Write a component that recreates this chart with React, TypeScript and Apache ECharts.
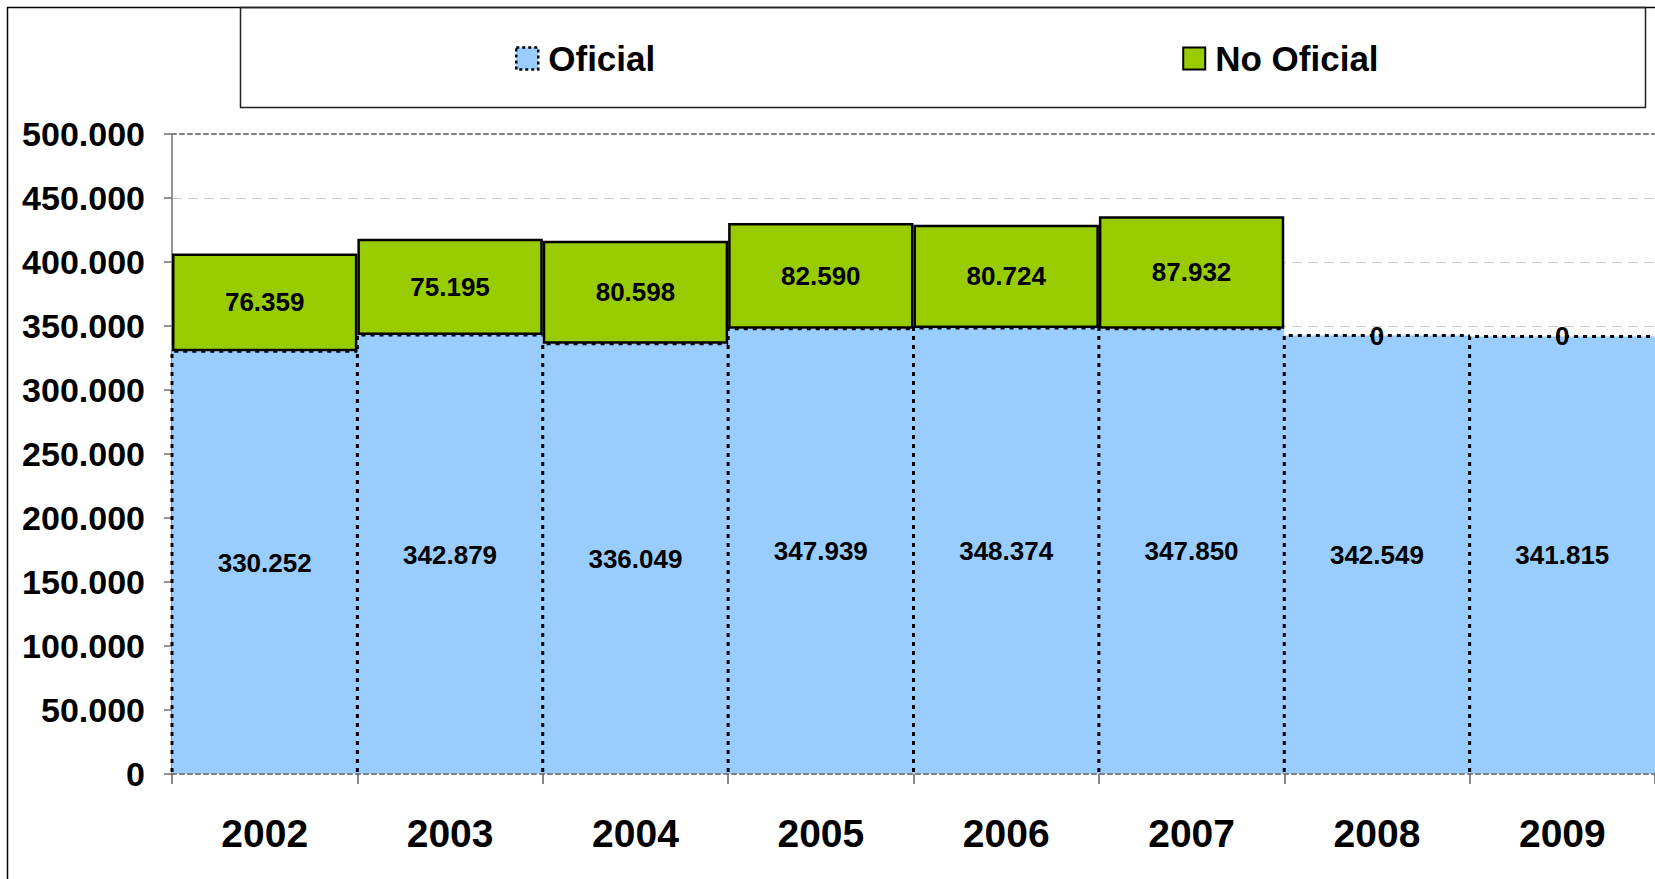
import React, { useEffect, useRef } from "react";
import * as echarts from "echarts";

const years = ["2002", "2003", "2004", "2005", "2006", "2007", "2008", "2009"];
const oficial = [330252, 342879, 336049, 347939, 348374, 347850, 342549, 341815];
const noOficial = [76359, 75195, 80598, 82590, 80724, 87932, 0, 0];
const yTicks = { min: 0, max: 500000, interval: 50000 };

const FONT = "'Liberation Sans', Arial, sans-serif";
const fmt = (v: number) => String(Math.round(v)).replace(/\B(?=(\d{3})+(?!\d))/g, ".");

const oficialStyle = { color: "#99CCFF", borderColor: "#000", borderWidth: 0 };
const noOficialStyle = { color: "#99CC00", borderColor: "#000", borderWidth: 2.5 };

export default function App() {
  const ref = useRef<HTMLDivElement>(null);
  useEffect(() => {
    if (!ref.current) return;
    const chart = echarts.init(ref.current, null, { renderer: "svg" });
    const labelStyle = {
      show: true,
      position: "inside",
      formatter: (p: any) => fmt(p.value),
      fontSize: 26,
      fontWeight: "bold",
      color: "#000",
      fontFamily: FONT,
    };
    chart.setOption({
      animation: false,
      backgroundColor: "#fff",
      textStyle: { fontFamily: FONT },
      graphic: [
        {
          type: "rect",
          shape: { x: 7.5, y: 7.5, width: 1700, height: 900 },
          style: { fill: "none", stroke: "#000", lineWidth: 1.5 },
          silent: true,
          z: -10,
        },
        {
          type: "rect",
          shape: { x: 240.5, y: 7.5, width: 1405, height: 100 },
          style: { fill: "none", stroke: "#222", lineWidth: 1.5 },
          silent: true,
          z: -10,
        },
      ],
      legend: {
        data: [
          {
            name: "Oficial",
            itemStyle: { color: "#99CCFF", borderColor: "#000", borderWidth: 2.5, borderType: [3, 3] },
          },
          { name: "No Oficial", itemStyle: { ...noOficialStyle, borderWidth: 2 } },
        ],
        left: 510,
        top: 36,
        icon: "rect",
        itemWidth: 22,
        itemHeight: 22,
        itemGap: 527,
        textStyle: {
          fontSize: 35,
          fontWeight: "bold",
          color: "#000",
          fontFamily: FONT,
          padding: [0, 0, 0, 5],
        },
      },
      grid: { left: 172, top: 134, width: 1486, height: 640 },
      xAxis: [
        {
          type: "category",
          data: years,
          boundaryGap: true,
          z: 5,
          axisLine: { show: true, lineStyle: { color: "#808080", type: [4, 4], width: 2 } },
          axisTick: { show: true, alignWithLabel: false, length: 10, lineStyle: { color: "#606060", width: 1.5 } },
          axisLabel: {
            margin: 40,
            fontSize: 39,
            fontWeight: "bold",
            color: "#000",
            fontFamily: FONT,
          },
        },
        {
          type: "category",
          data: years,
          position: "top",
          axisLine: { show: true, lineStyle: { color: "#808080", type: [4, 4], width: 2 } },
          axisTick: { show: false },
          axisLabel: { show: false },
        },
      ],
      yAxis: {
        type: "value",
        min: yTicks.min,
        max: yTicks.max,
        interval: yTicks.interval,
        axisLine: { show: true, lineStyle: { color: "#707070", width: 1.5 } },
        axisTick: { show: true, length: 8, lineStyle: { color: "#707070", width: 1.5 } },
        axisLabel: {
          margin: 27,
          formatter: (v: number) => fmt(v),
          fontSize: 34,
          fontWeight: "bold",
          color: "#000",
          fontFamily: FONT,
        },
        splitLine: {
          show: true,
          showMinLine: false,
          showMaxLine: false,
          lineStyle: { color: "#CCCCCC", type: [10, 6], width: 1 },
        },
      },
      series: [
        {
          name: "Oficial",
          type: "bar",
          stack: "total",
          barCategoryGap: "0%",
          data: oficial,
          itemStyle: oficialStyle,
          label: labelStyle,
          z: 2,
        },
        {
          name: "OficialEdges",
          type: "custom",
          silent: true,
          z: 3,
          data: oficial.map((v, i) => [i, v]),
          renderItem: (params: any, api: any) => {
            const i = api.value(0);
            const v = api.value(1);
            const top = api.coord([i, v]);
            const base = api.coord([i, 0]);
            const w = api.size([1, 0])[0];
            const left = top[0] - w / 2;
            return {
              type: "polyline",
              shape: {
                points: [
                  [left, base[1] - 2],
                  [left, top[1]],
                  [left + w, top[1]],
                ],
              },
              style: { stroke: "#000", lineWidth: 3, lineDash: [4, 5], fill: "none" },
            };
          },
        },
        {
          name: "No Oficial",
          type: "bar",
          stack: "total",
          barCategoryGap: "0%",
          z: 4,
          data: noOficial.map((v) => (v === 0 ? { value: v, itemStyle: { borderWidth: 0 } } : v)),
          itemStyle: noOficialStyle,
          label: labelStyle,
        },
      ],
    });
    return () => chart.dispose();
  }, []);
  return (
    <div
      ref={ref}
      style={{ position: "fixed", left: 0, top: 0, width: 1655, height: 879, background: "#fff" }}
    />
  );
}
